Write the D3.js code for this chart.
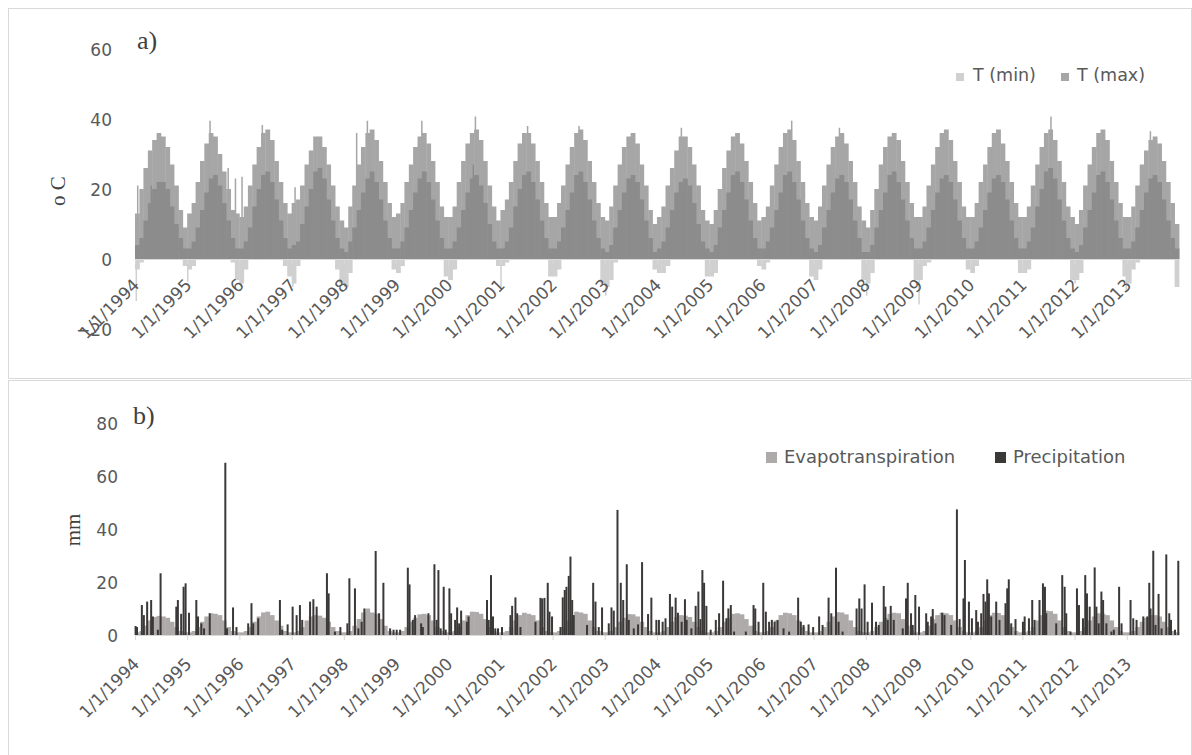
<!DOCTYPE html>
<html>
<head>
<meta charset="utf-8">
<script src="https://cdn.jsdelivr.net/npm/d3@7"></script>
<style>
  body { margin: 0; background: #fff; }
  svg { display: block; }
  .tick text { font-family: "DejaVu Sans", sans-serif; fill: #595959; }
</style>
</head>
<body>
<div id="myDataVis"></div>
<script>
// Axis labels
const yearLabels = ['1/1/1994', '1/1/1995', '1/1/1996', '1/1/1997', '1/1/1998', '1/1/1999', '1/1/2000',
    '1/1/2001', '1/1/2002', '1/1/2003', '1/1/2004', '1/1/2005', '1/1/2006', '1/1/2007', '1/1/2008',
    '1/1/2009', '1/1/2010', '1/1/2011', '1/1/2012', '1/1/2013'];
const tempTicks = [-20, 0, 20, 40, 60];
const rainTicks = [0, 20, 40, 60, 80];
const firstYear = 1994;

// Light series, monthly upper envelope (one row per year, Jan..Dec)
const tMaxRows = [
    [13, 20, 26, 31, 34, 36, 35, 32, 27, 21, 14, 9],
    [13, 16, 22, 28, 33, 36, 35, 30, 25, 20, 14, 13],
    [12, 15, 21, 27, 32, 36, 37, 34, 28, 22, 16, 13],
    [16, 17, 21, 27, 31, 35, 35, 32, 27, 21, 15, 11],
    [9, 15, 21, 27, 32, 36, 37, 34, 28, 22, 16, 12],
    [13, 16, 22, 27, 32, 35, 36, 33, 28, 22, 15, 12],
    [12, 15, 22, 28, 33, 36, 37, 34, 28, 21, 15, 11],
    [14, 17, 22, 28, 33, 36, 36, 33, 28, 22, 16, 12],
    [12, 16, 21, 27, 32, 36, 37, 34, 28, 22, 16, 12],
    [11, 15, 21, 27, 32, 35, 36, 33, 27, 21, 14, 10],
    [12, 15, 21, 26, 31, 35, 35, 32, 27, 21, 14, 11],
    [10, 14, 20, 26, 31, 35, 36, 33, 28, 22, 16, 11],
    [12, 15, 21, 27, 32, 36, 37, 34, 28, 22, 16, 12],
    [11, 15, 21, 27, 32, 35, 36, 33, 28, 22, 15, 11],
    [9, 14, 20, 27, 32, 35, 36, 34, 28, 22, 16, 12],
    [12, 15, 21, 27, 32, 36, 37, 34, 28, 22, 15, 12],
    [12, 16, 22, 27, 32, 36, 37, 33, 28, 22, 16, 12],
    [12, 15, 21, 27, 32, 36, 37, 34, 28, 22, 15, 12],
    [10, 14, 21, 27, 32, 36, 37, 34, 28, 22, 16, 12],
    [12, 15, 21, 27, 31, 34, 35, 33, 28, 22, 16, 10]
];

// Dark series, monthly upper envelope
const tMinRows = [
    [4, 6, 11, 16, 20, 22, 22, 20, 15, 10, 6, 3],
    [3, 5, 9, 14, 19, 23, 24, 21, 16, 11, 6, 3],
    [3, 5, 9, 15, 20, 24, 25, 22, 17, 11, 6, 3],
    [4, 5, 10, 15, 20, 25, 26, 23, 17, 11, 6, 3],
    [2, 5, 9, 14, 19, 23, 25, 22, 17, 11, 6, 3],
    [3, 5, 9, 14, 19, 23, 25, 22, 17, 11, 6, 3],
    [3, 5, 9, 14, 19, 23, 24, 21, 16, 10, 5, 3],
    [3, 5, 9, 15, 20, 24, 25, 22, 17, 11, 6, 3],
    [3, 5, 9, 14, 19, 24, 25, 22, 17, 11, 6, 3],
    [2, 4, 9, 14, 19, 23, 24, 22, 17, 11, 6, 2],
    [3, 5, 9, 14, 19, 22, 23, 21, 16, 10, 5, 3],
    [2, 4, 9, 14, 19, 24, 25, 22, 17, 11, 6, 3],
    [3, 5, 9, 14, 19, 24, 25, 22, 17, 11, 6, 3],
    [2, 4, 9, 14, 19, 23, 24, 22, 17, 11, 6, 2],
    [2, 4, 9, 14, 19, 24, 25, 22, 17, 11, 6, 3],
    [3, 5, 9, 14, 19, 23, 24, 22, 17, 11, 6, 3],
    [3, 5, 9, 14, 19, 23, 24, 22, 17, 11, 6, 3],
    [3, 5, 9, 15, 20, 25, 26, 23, 17, 11, 6, 3],
    [2, 4, 9, 14, 19, 24, 25, 22, 17, 11, 6, 3],
    [3, 5, 9, 14, 19, 23, 24, 22, 17, 11, 6, 3]
];

// Winter values below zero, monthly lower envelope
const tMinNegRows = [
    [-3, -1, 0, 0, 0, 0, 0, 0, 0, 0, 0, -2],
    [-3, -2, 0, 0, 0, 0, 0, 0, 0, 0, -1, -6],
    [-7, -3, 0, 0, 0, 0, 0, 0, 0, 0, -2, -5],
    [-7, -2, 0, 0, 0, 0, 0, 0, 0, 0, -3, -7],
    [-8, -4, 0, 0, 0, 0, 0, 0, 0, 0, 0, -3],
    [-4, -2, 0, 0, 0, 0, 0, 0, 0, 0, 0, -5],
    [-6, -3, 0, 0, 0, 0, 0, 0, 0, 0, 0, -2],
    [-2, -1, 0, 0, 0, 0, 0, 0, 0, 0, 0, -5],
    [-5, -3, 0, 0, 0, 0, 0, 0, 0, 0, 0, -7],
    [-8, -6, -1, 0, 0, 0, 0, 0, 0, 0, 0, -3],
    [-4, -4, -2, 0, 0, 0, 0, 0, 0, 0, 0, -5],
    [-5, -4, 0, 0, 0, 0, 0, 0, 0, 0, 0, -2],
    [-3, -1, 0, 0, 0, 0, 0, 0, 0, 0, 0, -5],
    [-6, -3, 0, 0, 0, 0, 0, 0, 0, 0, 0, -6],
    [-7, -4, 0, 0, 0, 0, 0, 0, 0, 0, 0, -6],
    [-6, -2, -1, 0, 0, 0, 0, 0, 0, 0, 0, -3],
    [-4, -2, 0, 0, 0, 0, 0, 0, 0, 0, 0, -4],
    [-4, -3, 0, 0, 0, 0, 0, 0, 0, 0, 0, -6],
    [-6, -4, 0, 0, 0, 0, 0, 0, 0, 0, 0, -5],
    [-7, -3, -1, 0, 0, 0, 0, 0, 0, 0, 0, -8]
];

// Single days that stick out of the envelopes
const tMaxSpikes = [
    ['1994-01-20', 21], ['1995-06-10', 39.5], ['1995-10-15', 26], ['1995-12-05', 23], ['1996-01-20', 23.5],
    ['1996-06-10', 38.3], ['1997-01-25', 20.5], ['1998-04-01', 36], ['1998-06-15', 39.5], ['1999-07-01', 39.5],
    ['2000-07-10', 40.7], ['2001-07-10', 38], ['2002-07-05', 38], ['2004-06-20', 37.5], ['2006-08-01', 39.5],
    ['2007-07-01', 37.5], ['2011-07-20', 40.7], ['2013-06-15', 36.5]
];
const tMinSpikes = [
    ['1994-01-10', -12], ['1995-01-05', -6.5], ['1996-01-15', -8], ['1997-01-10', -8], ['2001-01-05', -8],
    ['2003-01-08', -10.5], ['2008-01-08', -10.5], ['2009-01-08', -13], ['2012-01-05', -7], ['2012-12-28', -9.5],
    ['1994-04-25', 21], ['2000-06-25', 27]
];

// Evapotranspiration, monthly level (mm)
const etRows = [
    [1.0, 1.5, 3.5, 5.5, 6.8, 7.2, 7.0, 6.5, 5.0, 3.0, 1.5, 1.0],
    [1.0, 1.5, 3.0, 5.0, 7.0, 8.2, 8.0, 7.5, 5.5, 3.0, 1.5, 1.0],
    [1.0, 1.5, 3.0, 5.0, 7.0, 8.5, 8.8, 7.5, 5.5, 3.5, 1.5, 1.0],
    [1.0, 1.5, 3.0, 5.5, 7.0, 7.5, 7.3, 6.5, 5.0, 3.0, 1.5, 1.0],
    [1.0, 1.5, 3.5, 6.0, 8.5, 10.0, 8.5, 8.0, 6.0, 3.5, 1.5, 1.0],
    [1.0, 1.5, 3.0, 5.0, 6.5, 7.8, 8.0, 7.5, 5.5, 3.0, 1.5, 1.0],
    [1.0, 1.5, 3.0, 5.5, 7.5, 8.8, 8.7, 8.0, 6.0, 3.0, 1.5, 1.0],
    [1.0, 1.5, 3.0, 5.5, 7.5, 8.4, 8.0, 7.5, 5.5, 3.0, 1.5, 1.0],
    [1.0, 1.5, 3.0, 5.5, 7.5, 8.8, 8.5, 8.0, 5.5, 3.0, 1.5, 1.0],
    [1.0, 1.5, 3.0, 5.0, 6.5, 7.9, 7.8, 7.0, 5.0, 3.0, 1.5, 1.0],
    [1.0, 1.5, 3.0, 5.0, 6.8, 7.5, 7.3, 6.8, 5.0, 3.0, 1.5, 1.0],
    [1.0, 1.5, 3.0, 5.0, 6.5, 8.0, 8.2, 7.8, 6.0, 3.5, 1.5, 1.0],
    [1.0, 1.5, 3.0, 5.5, 7.5, 8.4, 8.2, 7.5, 5.5, 3.0, 1.5, 1.0],
    [1.0, 1.5, 3.0, 5.0, 7.0, 8.6, 8.5, 7.8, 5.5, 3.0, 1.5, 1.0],
    [1.0, 1.5, 3.0, 5.0, 6.5, 8.0, 8.4, 8.2, 6.0, 3.5, 1.5, 1.0],
    [1.0, 1.5, 3.5, 6.0, 7.5, 8.4, 8.2, 7.5, 5.5, 3.0, 1.5, 1.0],
    [1.0, 1.5, 3.0, 5.5, 7.5, 8.4, 8.3, 7.5, 5.5, 3.0, 1.5, 1.0],
    [1.0, 1.5, 3.0, 5.5, 7.5, 9.2, 9.0, 8.0, 5.5, 3.0, 1.5, 1.0],
    [1.0, 1.5, 3.0, 5.5, 7.0, 8.2, 8.0, 7.5, 5.5, 3.0, 1.5, 1.0],
    [1.0, 1.5, 3.0, 5.0, 6.5, 7.5, 7.5, 7.0, 5.0, 3.0, 1.5, 1.0]
];

// Daily precipitation events (mm)
const precipDays = [
    ['1994-01-05', 3.4], ['1994-01-15', 3], ['1994-02-18', 11.3], ['1994-03-04', 7.5], ['1994-03-27', 12.6],
    ['1994-04-24', 13.2], ['1994-05-06', 7], ['1994-06-10', 2], ['1994-06-29', 23.3], ['1994-10-17', 10.7],
    ['1994-10-28', 13.2], ['1994-11-20', 8], ['1994-12-07', 18.2], ['1994-12-21', 19.5], ['1995-01-14', 8.4],
    ['1995-03-06', 13.2], ['1995-03-18', 7], ['1995-04-10', 4.4], ['1995-04-29', 2.5], ['1995-06-08', 8.2],
    ['1995-09-25', 65], ['1995-10-07', 2.5], ['1995-11-18', 10.4], ['1995-12-12', 3], ['1996-03-03', 4.4],
    ['1996-03-26', 12], ['1996-04-07', 4.4], ['1996-05-12', 6.3], ['1996-10-11', 13.2], ['1996-10-27', 2],
    ['1996-12-04', 4], ['1997-01-08', 10.7], ['1997-02-05', 7.5], ['1997-02-28', 11.3], ['1997-03-16', 5.7],
    ['1997-05-10', 12.6], ['1997-06-02', 13.5], ['1997-06-25', 10.7], ['1997-09-05', 23.3], ['1997-09-17', 15.7],
    ['1997-10-31', 1.3], ['1997-12-08', 3], ['1998-01-26', 4.4], ['1998-02-09', 21.4], ['1998-03-20', 17.6],
    ['1998-04-13', 2.5], ['1998-05-06', 5], ['1998-05-25', 10], ['1998-08-12', 31.7], ['1998-09-05', 8.2],
    ['1998-10-05', 19.7], ['1998-11-21', 2.5], ['1998-12-15', 2], ['1999-01-06', 2], ['1999-01-30', 2],
    ['1999-03-25', 25.4], ['1999-04-06', 19.1], ['1999-04-29', 5.7], ['1999-05-15', 7.5], ['1999-06-26', 4.4],
    ['1999-07-08', 3], ['1999-08-16', 8.2], ['1999-09-27', 26.7], ['1999-10-13', 5.7], ['1999-10-25', 24.5],
    ['1999-11-10', 2.5], ['1999-12-01', 18.2], ['1999-12-15', 2], ['2000-01-10', 17.6], ['2000-01-22', 8.2],
    ['2000-02-19', 5.7], ['2000-03-04', 10.4], ['2000-03-18', 4.4], ['2000-04-01', 9.2], ['2000-05-11', 5],
    ['2000-05-23', 7], ['2000-09-29', 13.2], ['2000-10-11', 5.7], ['2000-10-27', 22.6], ['2000-11-10', 7],
    ['2000-11-26', 2.5], ['2000-12-15', 2.5], ['2001-01-12', 3], ['2001-03-12', 7.5], ['2001-03-24', 11],
    ['2001-04-16', 14.2], ['2001-04-28', 8.2], ['2001-05-21', 3], ['2001-09-03', 5], ['2001-10-08', 14],
    ['2001-10-20', 13.8], ['2001-11-05', 14], ['2001-11-28', 19.7], ['2001-12-10', 8.8], ['2001-12-28', 7],
    ['2002-02-25', 3], ['2002-03-13', 14.2], ['2002-03-27', 17], ['2002-04-08', 18.2], ['2002-04-24', 22.3],
    ['2002-05-06', 29.6], ['2002-05-18', 13.2], ['2002-05-29', 7.5], ['2002-08-30', 3.8], ['2002-10-12', 19.7],
    ['2002-10-28', 12.6], ['2002-11-20', 3], ['2002-12-13', 10.4], ['2003-01-29', 4.4], ['2003-02-17', 10.4],
    ['2003-03-05', 9.2], ['2003-03-31', 47.2], ['2003-04-23', 19.7], ['2003-05-10', 13.2], ['2003-06-04', 26.7],
    ['2003-06-18', 5.7], ['2003-07-23', 2.5], ['2003-08-22', 4], ['2003-09-19', 27.5], ['2003-10-31', 7.9],
    ['2003-11-23', 14.1], ['2003-12-28', 5.7], ['2004-01-15', 5.7], ['2004-02-10', 5], ['2004-03-01', 6.3],
    ['2004-04-01', 15.5], ['2004-04-17', 10.7], ['2004-05-11', 14.1], ['2004-05-27', 8.4], ['2004-06-22', 5],
    ['2004-07-15', 13.5], ['2004-07-27', 5.7], ['2004-08-29', 2.5], ['2004-09-28', 11], ['2004-10-17', 16.4],
    ['2004-10-31', 6], ['2004-11-14', 24.5], ['2004-11-26', 19.7], ['2004-12-12', 11], ['2005-01-11', 2],
    ['2005-02-16', 5.7], ['2005-03-11', 8.2], ['2005-04-08', 20.5], ['2005-05-01', 6.3], ['2005-05-15', 10],
    ['2005-06-01', 11.3], ['2005-06-24', 1.3], ['2005-09-14', 1.3], ['2005-11-07', 11.3], ['2005-11-19', 10],
    ['2005-12-12', 5], ['2006-01-14', 19.7], ['2006-02-01', 8.8], ['2006-02-24', 5], ['2006-03-15', 5.7],
    ['2006-04-03', 5], ['2006-04-24', 5.7], ['2006-06-05', 2.5], ['2006-07-14', 1.3], ['2006-09-15', 14.1],
    ['2006-10-04', 5], ['2006-10-23', 3.8], ['2006-11-27', 4], ['2006-12-29', 3], ['2007-02-09', 7],
    ['2007-03-05', 3.8], ['2007-04-16', 14.1], ['2007-05-05', 8.2], ['2007-06-07', 25.4], ['2007-06-25', 5],
    ['2007-07-23', 1.3], ['2007-10-29', 10], ['2007-11-17', 13.8], ['2007-12-03', 10], ['2007-12-24', 19.1],
    ['2008-01-14', 5], ['2008-02-14', 12.2], ['2008-03-13', 5], ['2008-04-01', 3.8], ['2008-05-06', 18.5],
    ['2008-05-18', 10.7], ['2008-06-03', 5.7], ['2008-06-24', 11], ['2008-07-15', 5.7], ['2008-09-16', 2.5],
    ['2008-10-09', 13.8], ['2008-10-21', 19.7], ['2008-11-13', 8.2], ['2008-11-25', 3.8], ['2008-12-13', 15.1],
    ['2009-01-08', 10.7], ['2009-02-27', 8.2], ['2009-03-10', 5], ['2009-04-03', 7], ['2009-04-14', 9.8],
    ['2009-05-03', 4.4], ['2009-06-19', 8.4], ['2009-07-05', 7.5], ['2009-08-21', 3.8], ['2009-09-30', 47.4],
    ['2009-10-19', 6], ['2009-11-15', 13.8], ['2009-11-25', 28.3], ['2009-12-23', 12.6], ['2010-01-13', 6.3],
    ['2010-02-12', 9.4], ['2010-02-24', 5], ['2010-03-19', 8.2], ['2010-04-04', 15.5], ['2010-04-18', 12.6],
    ['2010-04-30', 21], ['2010-05-12', 15.7], ['2010-05-28', 7], ['2010-07-02', 12.6], ['2010-07-25', 5.7],
    ['2010-09-05', 12], ['2010-09-17', 17.6], ['2010-09-28', 21], ['2010-10-15', 4.4], ['2010-11-14', 6],
    ['2011-01-05', 5], ['2011-01-17', 7], ['2011-02-16', 6.3], ['2011-03-11', 13.2], ['2011-03-27', 5.7],
    ['2011-05-01', 13.2], ['2011-05-25', 19.5], ['2011-06-08', 18.2], ['2011-06-17', 8.2], ['2011-08-26', 4.4],
    ['2011-10-07', 22.6], ['2011-10-24', 18.2], ['2011-11-04', 8.2], ['2011-12-04', 1.3], ['2012-01-18', 17.6],
    ['2012-02-01', 11.3], ['2012-02-29', 6.3], ['2012-03-16', 22.6], ['2012-03-28', 15.7], ['2012-04-16', 10.7],
    ['2012-05-21', 25.5], ['2012-06-02', 10.7], ['2012-06-18', 4.4], ['2012-07-07', 16.4], ['2012-07-19', 13.2],
    ['2012-08-11', 4.4], ['2012-09-15', 1.3], ['2012-10-02', 2], ['2012-11-08', 18.2], ['2012-11-25', 4.4],
    ['2013-01-27', 13.2], ['2013-02-15', 6.3], ['2013-03-10', 5.7], ['2013-04-26', 7], ['2013-05-24', 7],
    ['2013-06-07', 19.7], ['2013-06-16', 10], ['2013-07-05', 31.8], ['2013-07-21', 3.8], ['2013-08-11', 15.5],
    ['2013-09-01', 2.5], ['2013-10-04', 30.4], ['2013-10-25', 8.2], ['2013-11-06', 5.7], ['2013-12-04', 2],
    ['2013-12-27', 28]
];

const colorTMax = '#a6a6a6';
const colorOverlap = '#8c8c8c';
const colorTMin = '#d0d0d0';
const colorEt = '#aeaaaa';
const colorRain = '#3b3838';
const gridGray = '#d9d9d9';

let svg;
let xScale;
let yTemp;
let yRain;
const parseDay = d3.timeParse('%Y-%m-%d');
const parseLabel = d3.timeParse('%m/%d/%Y');

document.addEventListener('DOMContentLoaded', () => {
    init();
    drawTemperature();
    drawWaterBalance();
});

// rows of 12 months -> list of {start, end, value}
const toMonthly = (rows) => {
    const out = [];
    rows.forEach((row, i) => {
        row.forEach((v, m) => {
            out.push({start: new Date(firstYear + i, m, 1), end: new Date(firstYear + i, m + 1, 1), value: v});
        });
    });
    return out;
}

const init = () => {
    svg = d3.select('#myDataVis')
        .append('svg')
        .attr('width', 1192)
        .attr('height', 755);

    // panel frames
    svg.append('rect')
        .attr('x', 8.5).attr('y', 8.5)
        .attr('width', 1183).attr('height', 370)
        .attr('fill', 'none').attr('stroke', gridGray);
    svg.append('rect')
        .attr('x', 8.5).attr('y', 380.5)
        .attr('width', 1183).attr('height', 380)
        .attr('fill', 'none').attr('stroke', gridGray);

    xScale = d3.scaleTime()
        .domain([new Date(firstYear, 0, 1), new Date(firstYear + 20, 0, 1)])
        .range([135, 1179]);
    yTemp = d3.scaleLinear().domain([-20, 60]).range([329, 49]);
    yRain = d3.scaleLinear().domain([0, 80]).range([635, 423]);
}

const drawDateAxis = (y0, labelDx, labelDy) => {
    const xAxis = d3.axisBottom(xScale)
        .tickValues(yearLabels.map(parseLabel))
        .tickFormat(d3.timeFormat('%-m/%-d/%Y'))
        .tickSize(5)
        .tickSizeOuter(0);
    const g = svg.append('g')
        .attr('transform', 'translate(0,' + y0 + ')')
        .call(xAxis);
    g.select('.domain').attr('stroke', gridGray);
    g.selectAll('.tick line').attr('stroke', gridGray);
    g.selectAll('.tick text')
        .attr('x', 0).attr('y', 0).attr('dy', 0)
        .attr('text-anchor', 'end')
        .attr('transform', 'translate(' + labelDx + ',' + labelDy + ') rotate(-45)')
        .style('font-size', '17px');
}

const drawValueAxis = (scale, ticks, xPos) => {
    const yAxis = d3.axisLeft(scale).tickValues(ticks).tickSize(0).tickPadding(0);
    const g = svg.append('g')
        .attr('transform', 'translate(' + xPos + ',0)')
        .call(yAxis);
    g.select('.domain').remove();
    g.selectAll('.tick text').attr('dy', '0.36em').style('font-size', '17px');
}

const drawMonthBars = (data, yScale, color) => {
    svg.append('g')
        .selectAll('rect')
        .data(data.filter(d => d.value !== 0))
        .join('rect')
        .attr('x', d => xScale(d.start))
        .attr('width', d => xScale(d.end) - xScale(d.start) + 0.4)
        .attr('y', d => yScale(Math.max(d.value, 0)))
        .attr('height', d => Math.abs(yScale(d.value) - yScale(0)))
        .attr('fill', color);
}

const drawDayBars = (data, yScale, colorFn, w) => {
    svg.append('g')
        .selectAll('rect')
        .data(data)
        .join('rect')
        .attr('x', d => xScale(parseDay(d[0])) - w / 2)
        .attr('width', w)
        .attr('y', d => yScale(Math.max(d[1], 0)))
        .attr('height', d => Math.abs(yScale(d[1]) - yScale(0)))
        .attr('fill', colorFn);
}

const drawTemperature = () => {
    drawMonthBars(toMonthly(tMaxRows), yTemp, colorTMax);
    drawDayBars(tMaxSpikes, yTemp, colorTMax, 1.5);
    drawMonthBars(toMonthly(tMinRows), yTemp, colorOverlap);
    drawMonthBars(toMonthly(tMinNegRows), yTemp, colorTMin);
    drawDayBars(tMinSpikes, yTemp, d => d[1] < 0 ? colorTMin : colorOverlap, 1.5);

    drawDateAxis(yTemp(0), 5, 27);
    drawValueAxis(yTemp, tempTicks, 112);

    svg.append('text')
        .attr('x', 137).attr('y', 49)
        .style('font-family', '"Liberation Serif", serif')
        .style('font-size', '26px')
        .attr('fill', '#404040')
        .text('a)');

    svg.append('text')
        .attr('transform', 'translate(65,191) rotate(-90)')
        .attr('text-anchor', 'middle')
        .style('font-family', '"Liberation Serif", serif')
        .style('font-size', '21px')
        .attr('fill', '#404040')
        .text('o C');

    // Legend
    const legend = svg.append('g').attr('class', 'legend');
    const items = [{label: 'T (min)', color: colorTMin, x: 956, tx: 973}, {label: 'T (max)', color: colorTMax, x: 1061, tx: 1077}];
    items.forEach(it => {
        legend.append('rect')
            .attr('x', it.x).attr('y', 73)
            .attr('width', 8).attr('height', 8)
            .attr('fill', it.color);
        legend.append('text')
            .attr('x', it.tx).attr('y', 81)
            .style('font-family', '"DejaVu Sans", sans-serif')
            .style('font-size', '17.5px')
            .attr('fill', '#595959')
            .text(it.label);
    });
}

const drawWaterBalance = () => {
    drawMonthBars(toMonthly(etRows), yRain, colorEt);
    drawDayBars(precipDays, yRain, colorRain, 2);

    drawDateAxis(yRain(0), 5, 30);
    drawValueAxis(yRain, rainTicks, 118);

    svg.append('text')
        .attr('x', 133).attr('y', 424)
        .style('font-family', '"Liberation Serif", serif')
        .style('font-size', '26px')
        .attr('fill', '#404040')
        .text('b)');

    svg.append('text')
        .attr('transform', 'translate(80,530) rotate(-90)')
        .attr('text-anchor', 'middle')
        .style('font-family', '"Liberation Serif", serif')
        .style('font-size', '21px')
        .attr('fill', '#404040')
        .text('mm');

    const legend = svg.append('g').attr('class', 'legend');
    const items = [{label: 'Evapotranspiration', color: colorEt, x: 766}, {label: 'Precipitation', color: colorRain, x: 995}];
    items.forEach(it => {
        legend.append('rect')
            .attr('x', it.x).attr('y', 452)
            .attr('width', 11).attr('height', 11)
            .attr('fill', it.color);
        legend.append('text')
            .attr('x', it.x + 18).attr('y', 463)
            .style('font-family', '"DejaVu Sans", sans-serif')
            .style('font-size', '18px')
            .attr('fill', '#595959')
            .text(it.label);
    });
}
</script>
</body>
</html>
